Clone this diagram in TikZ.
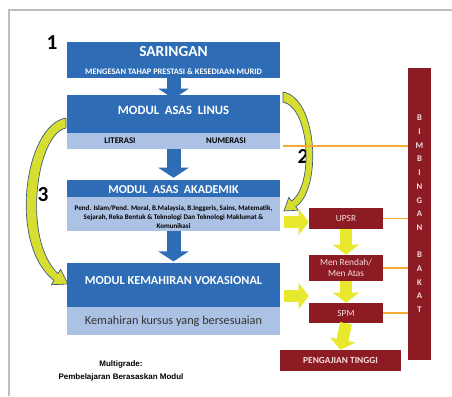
\documentclass[tikz,border=0pt]{standalone}
\usepackage{fontspec}
\setmainfont{Carlito}
\newfontfamily\multifont{Liberation Sans}
\usetikzlibrary{arrows.meta}
\definecolor{asasblue}{RGB}{46,109,182}
\definecolor{bandblue}{RGB}{172,194,228}
\definecolor{bakatred}{RGB}{140,27,36}
\definecolor{redtext}{RGB}{245,222,222}
\definecolor{ylw}{RGB}{232,232,44}
\definecolor{curveylw}{RGB}{214,222,50}
\definecolor{curveline}{RGB}{60,85,125}
\definecolor{orangeline}{RGB}{247,170,50}
\definecolor{framegray}{RGB}{190,190,190}
\tikzset{bluebox/.style={fill=asasblue, inner sep=0pt, minimum width=159.75pt}}
\tikzset{bandbox/.style={fill=bandblue, inner sep=0pt, minimum width=159.75pt}}
\tikzset{redbox/.style={fill=bakatred, text=redtext, inner sep=0pt, align=center,
      font=\fontsize{7}{8}\selectfont}}
\tikzset{bluetext/.style={text=white, inner sep=0pt, font=\bfseries}}
\tikzset{bluedown/.style={draw=asasblue, line width=10.5pt,
      -{Triangle[length=7.5pt,width=22.5pt]}}}
\tikzset{ylwarrow/.style={draw=ylw, line width=9pt,
      -{Triangle[length=7.5pt,width=19pt]}}}
\tikzset{orangelink/.style={draw=orangeline, line width=1.1pt}}
\tikzset{curvearrow/.style={fill=curveylw, draw=curveline, line width=0.5pt, line join=round}}
\tikzset{numtext/.style={inner sep=0pt, font=\fontsize{16}{16}\selectfont\bfseries}}

\begin{document}
\begin{tikzpicture}[x=0.75pt,y=-0.75pt]
		\useasboundingbox (0,0) rectangle (452,396);
		\fill[white] (0,0) rectangle (452,396);
		\draw[framegray, line width=1.1pt] (9,396) -- (9,10) -- (452,10);
		% blue column
		\node (saringan) [bluebox, minimum height=27pt] at (173.5,60) {};
		\node (saringantitle) [bluetext, font=\fontsize{11.5}{12}\selectfont\bfseries] at (173.5,52) {SARINGAN};
		\node (saringansub) [bluetext, font=\fontsize{6.3}{6}\selectfont\bfseries] at (173.5,72) {MENGESAN TAHAP PRESTASI \& KESEDIAAN MURID};
		\node (linus) [bluebox, minimum height=28.5pt] at (173.5,114) {};
		\node (linustitle) [bluetext, font=\fontsize{9.5}{10}\selectfont\bfseries] at (173.5,110) {MODUL\ \ ASAS\ \ LINUS};
		\node (linusband) [bandbox, minimum height=12pt] at (173.5,141) {};
		\node (literasi) [inner sep=0pt, font=\fontsize{6.5}{7}\selectfont\bfseries] at (120,141) {LITERASI};
		\node (numerasi) [inner sep=0pt, font=\fontsize{6.5}{7}\selectfont\bfseries] at (226,141) {NUMERASI};
		\node (akademik) [bluebox, minimum height=12.75pt] at (173.5,188.5) {};
		\node (akademiktitle) [bluetext, font=\fontsize{9}{10}\selectfont\bfseries] at (173.5,190) {MODUL\ \ ASAS\ \ AKADEMIK};
		\node (akabody) [bandbox, minimum height=25.5pt] at (173.5,214) {};
		\node (akatext) [inner sep=0pt, align=center, font=\fontsize{5.3}{7}\selectfont\bfseries] at (173.5,217) {Pend. Islam/Pend. Moral, B.Malaysia, B.Inggeris, Sains, Matematik,\\Sejarah, Reka Bentuk \& Teknologi Dan Teknologi Maklumat \&\\Komunikasi};
		\node (vokasional) [bluebox, minimum height=33pt] at (173.5,285) {};
		\node (vokatitle) [bluetext, font=\fontsize{9.2}{10}\selectfont\bfseries] at (173.5,281) {MODUL KEMAHIRAN VOKASIONAL};
		\node (vokaband) [bandbox, minimum height=21pt] at (173.5,321) {};
		\node (vokatext) [inner sep=0pt, text=black!80, font=\fontsize{9.2}{9}\selectfont] at (173.5,321) {Kemahiran kursus yang bersesuaian};
		\draw[bluedown, shorten >=-3pt] (saringan.south) -- (linus.north);
		\draw[bluedown, shorten >=1.5pt] (linusband.south) -- (akademik.north);
		\draw[bluedown, shorten >=1pt] (akabody.south) -- (vokasional.north);
		% numbers
		\node (one) [numtext] at (52,43) {1};
		\node (two) [numtext] at (303,157) {2};
		\node (three) [numtext] at (43,195) {3};
		% curved arrows
		\draw[curvearrow] (66,118) .. controls (24,125) and (8,245) .. (54,280.4) -- (51.4,284.7) -- (68,284)
		  -- (60.6,269.3) -- (58,273.6) .. controls (22,240) and (36,134) .. (66,128) -- cycle;
		\draw[curvearrow] (283,92) .. controls (318,98) and (322,190) .. (295.7,206.6) -- (298.4,210.2) -- (284,211)
		  -- (288.8,197.4) -- (291.5,201) .. controls (314,185) and (310,108) .. (283,102) -- cycle;
		% red column
		\node (bar) [fill=bakatred, minimum width=17.25pt, minimum height=219pt, inner sep=0pt] at (419.5,214) {};
		\foreach \ch [count=\i from 0] in {B,I,M,B,I,N,G,A,N,{},B,A,K,A,T}
		  \node (letter\i) [text=redtext, inner sep=0pt, font=\fontsize{6.5}{7}\selectfont\bfseries] at (419.5,118+13.7*\i) {\ch};
		\node (upsr) [redbox, minimum width=55.5pt, minimum height=15.75pt] at (346,218.5) {UPSR};
		\node (men) [redbox, minimum width=55.5pt, minimum height=19.5pt] at (346,268) {Men Rendah/\\Men Atas};
		\node (spm) [redbox, minimum width=55.5pt, minimum height=15pt] at (346,313) {SPM};
		\node (tinggi) [redbox, minimum width=90.75pt, minimum height=15.75pt, font=\fontsize{7}{8}\selectfont\bfseries] at (340.5,360.5) {PENGAJIAN TINGGI};
		\coordinate (orangestart) at (283,146);
		\draw[orangelink] (orangestart) -- (orangestart -| bar.west);
		\draw[orangelink] (upsr.east) -- (upsr.east -| bar.west);
		\draw[orangelink] (men.east) -- (men.east -| bar.west);
		\draw[orangelink] (spm.east) -- (spm.east -| bar.west);
		\draw[ylwarrow] (upsr.south) -- (men.north);
		\draw[ylwarrow] (men.south) -- (spm.north);
		\draw[ylwarrow] (spm.south) -- (tinggi.north);
		\draw[ylwarrow] (akabody.east |- 0,222) ++(4,0) -- (upsr.west |- 0,222);
		\draw[ylwarrow] (vokasional.east |- 0,296) ++(4,0) -- (spm.west |- 0,296);
		% footnote
		\node (multigrade) [inner sep=0pt, align=center, font=\multifont\fontsize{6}{9.5}\selectfont\bfseries] at (121,371) {Multigrade:\\Pembelajaran Berasaskan Modul};
\end{tikzpicture}
\end{document}
